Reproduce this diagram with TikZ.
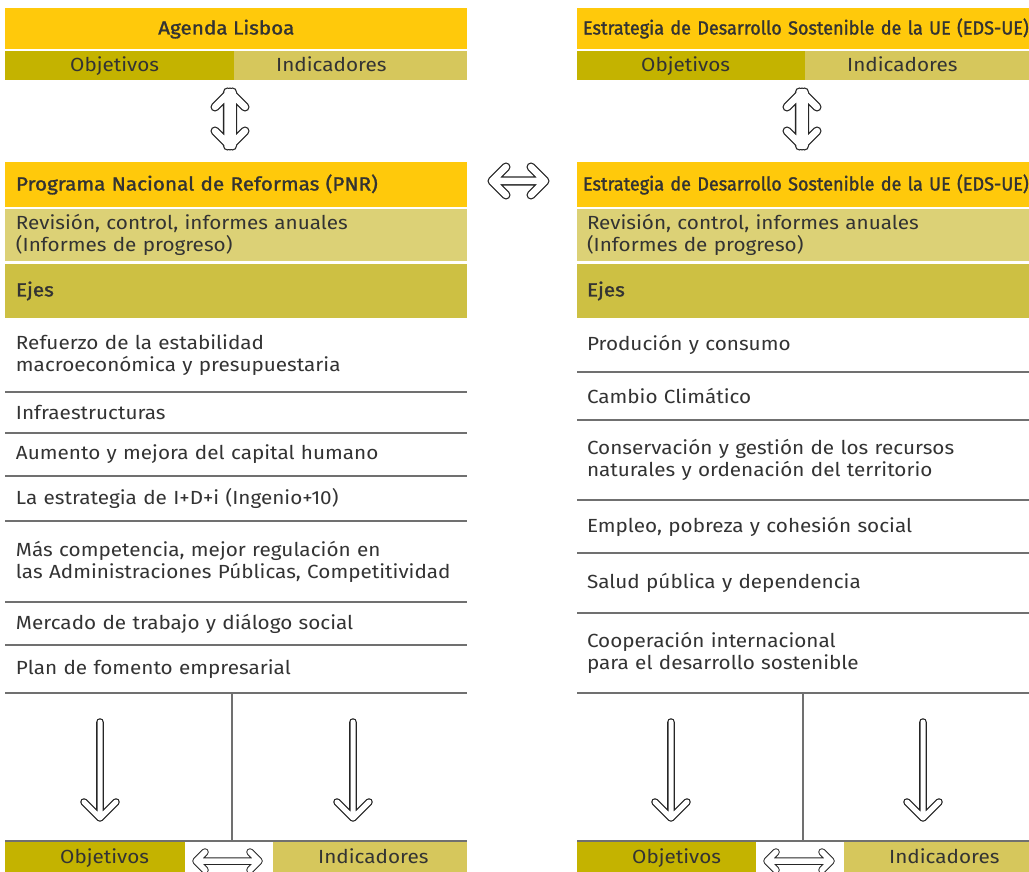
\documentclass[tikz,border=0pt]{standalone}
\usepackage{fontspec}
\setmainfont{Fira Sans}[FakeStretch=1.09]
\newfontfamily\fmedia{Fira Sans}[FakeBold=1.4,FakeStretch=1.09]
\newfontfamily\festrecha{Fira Sans}[FakeBold=1.4,FakeStretch=0.95]
\usetikzlibrary{positioning}

\definecolor{amarillo}{HTML}{FFC90B}
\definecolor{oliva}{HTML}{C4B300}
\definecolor{indic}{HTML}{D6C75C}
\definecolor{revis}{HTML}{DCD176}
\definecolor{ejes}{HTML}{CDC043}
\definecolor{texto}{HTML}{333333}
\definecolor{linea}{HTML}{707070}

\newcommand\cuerpo{\fontsize{19}{22}\selectfont}
\newcommand\medio{\fmedia\fontsize{19}{22}\selectfont}
\newcommand\estrecho{\festrecha\fontsize{19}{22}\selectfont}

\tikzset{
  caja/.style={anchor=north west,inner sep=0pt,outer sep=0pt,text=texto,font=\cuerpo},
  rotulo/.style={anchor=west,inner sep=0pt,text=texto,font=\cuerpo,text height=15pt,text depth=3pt},
  izq/.style={caja,align=left,text width=#1},
  filaI/.style={izq=440pt,inner xsep=11pt,minimum height=#1},
  filaD/.style={izq=432pt,inner xsep=10pt,minimum height=#1},
  sep/.style={draw=linea,line width=1.3pt},
  flecha/.style={draw=black!85,line width=1.3pt,double=white,double distance=6.5pt,
    line cap=round,line join=round},
  flechita/.style={flecha,line width=1pt,double distance=5.5pt}
}

\begin{document}
\begin{tikzpicture}[x=1pt,y=-1pt]
  \useasboundingbox (0,0) rectangle (1029,872);

  % columna izquierda: Agenda Lisboa / PNR
  \node[caja,fill=amarillo,minimum width=462,minimum height=41] (agenda) at (5,8) {};
  \node[rotulo,font=\medio,right=153pt of agenda.west] (tAgenda) {Agenda Lisboa};
  \node[caja,fill=oliva,minimum width=229,minimum height=29] (objA) at (5,51) {};
  \node[caja,fill=indic,minimum width=233,minimum height=29,right=0pt of objA] (indA) {};
  \node[rotulo,right=65pt of objA.west] (tObjA) {Objetivos};
  \node[rotulo,right=42pt of indA.west] (tIndA) {Indicadores};
  \node[filaI=45,fill=amarillo,font=\medio] (pnr) at (5,162) {Programa Nacional de Reformas (PNR)};
  \node[filaI=52,fill=revis] (revA) at (5,209) {Revisión, control, informes anuales\\(Informes de progreso)};
  \node[filaI=54,fill=ejes,font=\medio] (ejesA) at (5,264) {Ejes};

  \node[filaI=74] (a1) at (ejesA.south west) {Refuerzo de la estabilidad\\macroeconómica y presupuestaria};
  \node[filaI=41] (a2) at (a1.south west) {Infraestructuras};
  \node[filaI=43] (a3) at (a2.south west) {Aumento y mejora del capital humano};
  \node[filaI=45] (a4) at (a3.south west) {La estrategia de I+D+i (Ingenio+10)};
  \node[filaI=81] (a5) at (a4.south west) {Más competencia, mejor regulación en\\las Administraciones Públicas, Competitividad};
  \node[filaI=43] (a6) at (a5.south west) {Mercado de trabajo y diálogo social};
  \node[filaI=48] (a7) at (a6.south west) {Plan de fomento empresarial};
  \foreach \f in {a1,a2,a3,a4,a5,a6,a7}
    \draw[sep] (\f.south west) -- (\f.south east);

  \node[caja,minimum width=227,minimum height=148] (pieA) at (a7.south west) {};
  \draw[sep] (pieA.north east) -- (pieA.south east);
  \draw[sep] (pieA.south west) -- (pieA.south -| a7.east);
  \node[caja,fill=oliva,minimum width=180,minimum height=30] (objA2) at (5,842) {};
  \node[caja,fill=indic,minimum width=194,minimum height=30] (indA2) at (273,842) {};
  \node[rotulo,right=55pt of objA2.west] (tObjA2) {Objetivos};
  \node[rotulo,right=45pt of indA2.west] (tIndA2) {Indicadores};

  % columna derecha: EDS-UE
  \node[izq=446pt,inner xsep=6pt,minimum height=41,fill=amarillo,font=\estrecho] (eds) at (577,8) {Estrategia de Desarrollo Sostenible de la UE (EDS-UE)};
  \node[caja,fill=oliva,minimum width=228,minimum height=29] (objB) at (577,51) {};
  \node[caja,fill=indic,minimum width=224,minimum height=29,right=0pt of objB] (indB) {};
  \node[rotulo,right=64pt of objB.west] (tObjB) {Objetivos};
  \node[rotulo,right=42pt of indB.west] (tIndB) {Indicadores};
  \node[izq=446pt,inner xsep=6pt,minimum height=45,fill=amarillo,font=\estrecho] (edsB) at (577,162) {Estrategia de Desarrollo Sostenible de la UE (EDS-UE)};
  \node[filaD=52,fill=revis] (revB) at (577,209) {Revisión, control, informes anuales\\(Informes de progreso)};
  \node[filaD=54,fill=ejes,font=\medio] (ejesB) at (577,264) {Ejes};

  \node[filaD=54] (b1) at (ejesB.south west) {Produción y consumo};
  \node[filaD=48] (b2) at (b1.south west) {Cambio Climático};
  \node[filaD=80] (b3) at (b2.south west) {Conservación y gestión de los recursos\\naturales y ordenación del territorio};
  \node[filaD=53] (b4) at (b3.south west) {Empleo, pobreza y cohesión social};
  \node[filaD=60] (b5) at (b4.south west) {Salud pública y dependencia};
  \node[filaD=80] (b6) at (b5.south west) {Cooperación internacional\\para el desarrollo sostenible};
  \foreach \f in {b1,b2,b3,b4,b5,b6}
    \draw[sep] (\f.south west) -- (\f.south east);

  \node[caja,minimum width=226,minimum height=148] (pieB) at (b6.south west) {};
  \draw[sep] (pieB.north east) -- (pieB.south east);
  \draw[sep] (pieB.south west) -- (pieB.south -| b6.east);
  \node[caja,fill=oliva,minimum width=179,minimum height=30] (objB2) at (577,842) {};
  \node[caja,fill=indic,minimum width=185,minimum height=30] (indB2) at (844,842) {};
  \node[rotulo,right=55pt of objB2.west] (tObjB2) {Objetivos};
  \node[rotulo,right=45pt of indB2.west] (tIndB2) {Indicadores};

  % flechas
  \coordinate (vA1) at (230,92);   \coordinate (vA2) at (230,146);
  \coordinate (vB1) at (802,92);   \coordinate (vB2) at (802,146);
  \foreach \s/\e in {vA1/vA2,vB1/vB2}
    \draw[flecha] ([xshift=-2.5pt]\s) -- ([xshift=-2.5pt]\e) ([xshift=2.5pt]\s) -- ([xshift=2.5pt]\e)
      (\s) ++(-15,15) -- (\s) -- ++(15,15)
      (\e) ++(-15,-15) -- (\e) -- ++(15,-15);

  \coordinate (hM1) at (492,181);  \coordinate (hM2) at (545,181);
  \draw[flecha] (hM1) -- (hM2)
    (hM1) ++(14,-14) -- (hM1) -- ++(14,14)
    (hM2) ++(-14,-14) -- (hM2) -- ++(-14,14);

  \coordinate (hA1) at (196,861);  \coordinate (hA2) at (259,861);
  \coordinate (hB1) at (767,861);  \coordinate (hB2) at (831,861);
  \foreach \s/\e in {hA1/hA2,hB1/hB2}
    \draw[flechita] (\s) -- (\e)
      (\s) ++(9,-9) -- (\s) -- ++(9,9)
      (\e) ++(-9,-9) -- (\e) -- ++(-9,9);

  \coordinate (dA1) at (100,722);  \coordinate (dA2) at (353,722);
  \coordinate (dB1) at (671,722);  \coordinate (dB2) at (923,722);
  \foreach \s in {dA1,dA2,dB1,dB2}
    \draw[flecha,double distance=5pt] (\s) -- ++(0,96) ++(-16,-16) -- ++(16,16) -- ++(16,-16);
\end{tikzpicture}
\end{document}
